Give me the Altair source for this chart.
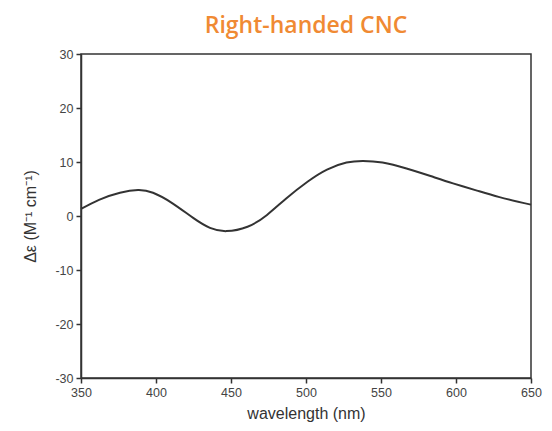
import altair as alt
import pandas as pd

wavelength = [350, 362, 376, 388, 398, 411, 425, 436, 447, 461, 474, 487, 501, 514, 527, 538, 551, 567, 583, 598, 614, 629, 650]
delta_eps = [1.3, 3.0, 4.3, 4.8, 4.3, 2.35, -0.4, -2.2, -2.8, -2.0, 0.2, 3.3, 6.35, 8.6, 9.9, 10.2, 9.9, 8.8, 7.4, 6.05, 4.7, 3.5, 2.1]
x_ticks = [350, 400, 450, 500, 550, 600, 650]
y_ticks = [-30, -20, -10, 0, 10, 20, 30]

df = pd.DataFrame({"wl": wavelength, "de": delta_eps})

chart = alt.Chart(df).mark_line(color="#333333", strokeWidth=2, interpolate="natural").encode(
    x=alt.X("wl:Q", scale=alt.Scale(domain=[350, 650], nice=False),
            axis=alt.Axis(values=x_ticks, title="wavelength (nm)", grid=False, labelFlush=False)),
    y=alt.Y("de:Q", scale=alt.Scale(domain=[-30, 30], nice=False),
            axis=alt.Axis(values=y_ticks, title="Δε (M⁻¹ cm⁻¹)", grid=False,
                          labelExpr="'' + datum.value")),
).properties(
    width=450, height=324,
    title=alt.TitleParams("Right-handed CNC", fontSize=23, font="Open Sans", fontWeight=600,
                          color="#F08A33", anchor="middle", offset=10),
    autosize=alt.AutoSizeParams(type="none"),
    padding={"left": 73, "top": 46, "right": 13, "bottom": 45},
).configure_view(
    stroke="#333333", strokeWidth=1.5
).configure_axis(
    domainColor="#333333", domainWidth=1.5, tickColor="#333333", tickWidth=1.5, tickSize=5,
    labelFont="Liberation Sans", labelFontSize=12.5, labelColor="#444444",
    titleFont="Liberation Sans", titleFontSize=16, titleFontWeight="normal", titleColor="#333333",
    labelPadding=3,
).configure_axisY(titlePadding=16).configure_axisX(titlePadding=7)

chart.save("out.html", embed_options={"renderer": "svg", "actions": False})
